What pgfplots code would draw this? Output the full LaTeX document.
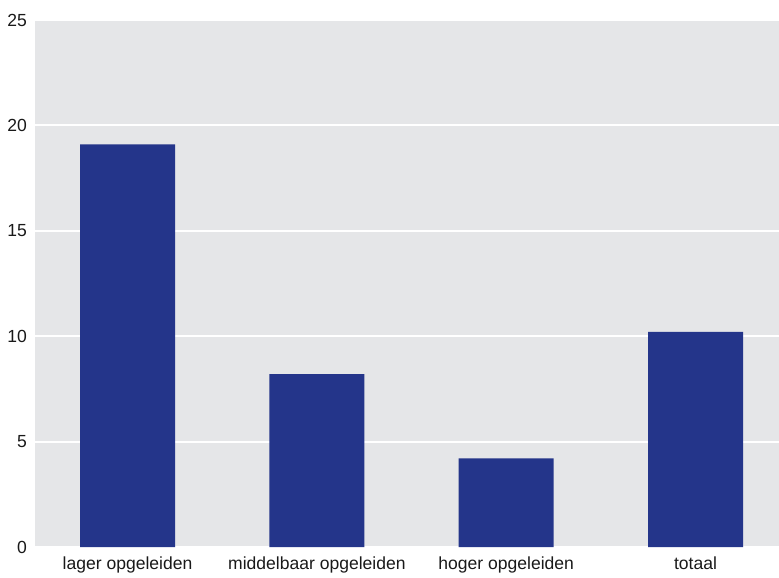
\documentclass[border=0pt]{standalone}
\usepackage{fontspec}
\setmainfont{Liberation Sans}
\usepackage{pgfplots}
\pgfplotsset{compat=1.18}
\definecolor{barblue}{RGB}{36,53,138}
\definecolor{bg}{RGB}{229,230,232}
\begin{document}
\begin{tikzpicture}
\begin{axis}[
 scale only axis, width=744bp, height=527bp,
 xmin=-0.489, xmax=3.441, ymin=0, ymax=25,
 ytick={0,5,...,25},
 xtick=data,
 xticklabels={lager opgeleiden, middelbaar opgeleiden, hoger opgeleiden, totaal},
 axis line style={draw=none}, major tick length=0pt,
 ymajorgrids, grid style={white, line width=2bp},
 axis background/.style={fill=bg},
 ybar, bar width=95bp, bar shift=0pt,
 tick label style={font=\fontsize{17.6}{17.6}\selectfont, text=black!90},
 /pgf/number format/assume math mode=true,
 yticklabel style={inner sep=0pt, xshift=-8bp},
 xticklabel style={inner sep=0pt, yshift=-10bp, anchor=north},
]
\addplot[fill=barblue, draw=none] coordinates {(0,19.1)(1,8.2)(2,4.2)(3,10.2)};
\end{axis}
\pgfresetboundingbox
\path (current axis.south west) ++(-35bp,-31bp) coordinate (bl);
\path (current axis.north east) ++(0,20bp) coordinate (tr);
\useasboundingbox (bl) rectangle (tr);
\end{tikzpicture}
\end{document}
